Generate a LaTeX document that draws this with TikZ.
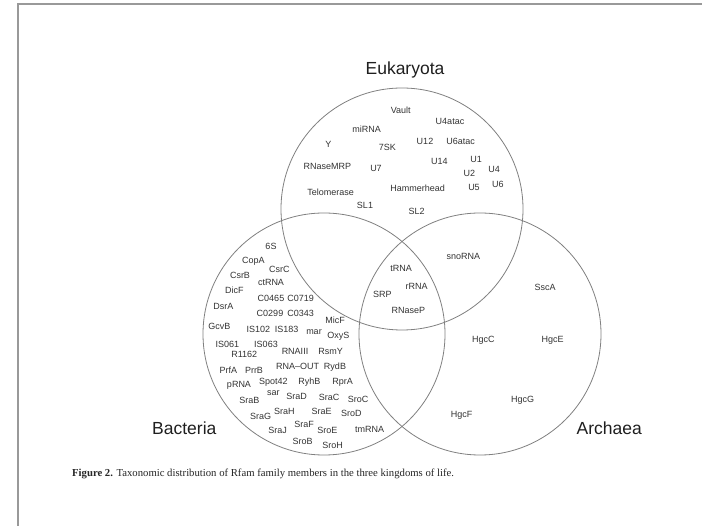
\documentclass[tikz,border=0pt]{standalone}
\usepackage{fontspec}
\setmainfont{Liberation Sans}
\newfontfamily\capfont{Liberation Serif}
\begin{document}
\begin{tikzpicture}[x=1pt,y=-1pt,
  lab/.style={font=\fontsize{9}{10}\selectfont, text=black!80, inner sep=0pt},
  kingdom/.style={font=\fontsize{17.5}{20}\selectfont, text=black!88, inner sep=0pt},
  ring/.style={draw=black!50, line width=0.8pt},
  frameline/.style={draw=black!40, line width=1.5pt}]
\useasboundingbox (0,0) rectangle (702,526);
\fill[white] (0,0) rectangle (702,526);

% page frame
\coordinate (ftl) at (18,4);
\coordinate (ftr) at (702,4);
\coordinate (fbl) at (18,526);
\draw[frameline] (fbl) -- (ftl) -- (ftr);

% the three sets
\coordinate (ceuk) at (402,209);
\coordinate (cbac) at (324,334);
\coordinate (carc) at (480,334);
\draw[ring] (ceuk) circle (121);
\draw[ring] (cbac) circle (121);
\draw[ring] (carc) circle (121);

% kingdom names
\node[kingdom] (keuk) at (405,70) {Eukaryota};
\node[kingdom] (kbac) at (184.3,428.3) {Bacteria};
\node[kingdom] (karc) at (609.3,428.3) {Archaea};

% Eukaryota only
\node[lab] (vault) at (400.7,110) {Vault};
\node[lab] (u4atac) at (450,121) {U4atac};
\node[lab] (mirna) at (366.7,129) {miRNA};
\node[lab] (y) at (328.3,144.3) {Y};
\node[lab] (sevensk) at (387.3,147.3) {7SK};
\node[lab] (u12) at (425,141) {U12};
\node[lab] (u6atac) at (460.7,141) {U6atac};
\node[lab] (u1) at (476,159) {U1};
\node[lab] (rnasemrp) at (327.3,166) {RNaseMRP};
\node[lab] (u7) at (376,168.3) {U7};
\node[lab] (u14) at (439.3,161.7) {U14};
\node[lab] (u2) at (469.3,173.3) {U2};
\node[lab] (u4) at (494,169.5) {U4};
\node[lab] (u5) at (474,187.7) {U5};
\node[lab] (u6) at (497.8,184) {U6};
\node[lab] (telomerase) at (330.7,192.3) {Telomerase};
\node[lab] (hammerhead) at (417.7,188.3) {Hammerhead};
\node[lab] (sl1) at (365,205.7) {SL1};
\node[lab] (sl2) at (416.7,211.7) {SL2};

% Eukaryota and Archaea
\node[lab] (snorna) at (463.3,256.7) {snoRNA};

% all three kingdoms
\node[lab] (trna) at (401,268.3) {tRNA};
\node[lab] (rrna) at (416.7,286.7) {rRNA};
\node[lab] (srp) at (382.3,294) {SRP};
\node[lab] (rnasep) at (408.3,310) {RNaseP};

% Archaea only
\node[lab] (ssca) at (545,287.3) {SscA};
\node[lab] (hgcc) at (483.3,340) {HgcC};
\node[lab] (hgce) at (552.7,340) {HgcE};
\node[lab] (hgcg) at (522.7,400.7) {HgcG};
\node[lab] (hgcf) at (461.7,415) {HgcF};

% Bacteria only
\node[lab] (sixs) at (271,246) {6S};
\node[lab] (copa) at (253.3,261) {CopA};
\node[lab] (csrc) at (279.3,269) {CsrC};
\node[lab] (csrb) at (240,275) {CsrB};
\node[lab] (ctrna) at (271,282.3) {ctRNA};
\node[lab] (dicf) at (234.3,290.7) {DicF};
\node[lab] (c0465) at (271,298.3) {C0465};
\node[lab] (c0719) at (300.7,298.3) {C0719};
\node[lab] (dsra) at (223.3,306) {DsrA};
\node[lab] (c0299) at (270,313.3) {C0299};
\node[lab] (c0343) at (300.7,313.3) {C0343};
\node[lab] (gcvb) at (219.3,326) {GcvB};
\node[lab] (is102) at (258.3,329) {IS102};
\node[lab] (is183) at (286.7,329) {IS183};
\node[lab] (mar) at (314,332.3) {mar};
\node[lab] (micf) at (335,320) {MicF};
\node[lab] (oxys) at (338.3,336.7) {OxyS};
\node[lab] (is061) at (227.3,344.3) {IS061};
\node[lab] (is063) at (266,344.3) {IS063};
\node[lab] (r1162) at (244.3,354.3) {R1162};
\node[lab] (rnaiii) at (295,351.7) {RNAIII};
\node[lab] (rsmy) at (330.7,351.7) {RsmY};
\node[lab] (prfa) at (228.3,370.7) {PrfA};
\node[lab] (prrb) at (254,370.7) {PrrB};
\node[lab] (rnaout) at (297.7,366) {RNA–OUT};
\node[lab] (rydb) at (335,366.7) {RydB};
\node[lab] (prna) at (239,385) {pRNA};
\node[lab] (spot42) at (273.3,382.3) {Spot42};
\node[lab] (ryhb) at (309.3,382.3) {RyhB};
\node[lab] (rpra) at (342.7,382.3) {RprA};
\node[lab] (sar) at (273.3,392.7) {sar};
\node[lab] (srab) at (249.3,400.7) {SraB};
\node[lab] (srad) at (296.7,396.7) {SraD};
\node[lab] (srac) at (329,397.7) {SraC};
\node[lab] (sroc) at (358,399) {SroC};
\node[lab] (srag) at (260.7,416.7) {SraG};
\node[lab] (srah) at (284.3,411.7) {SraH};
\node[lab] (srae) at (321.7,411.7) {SraE};
\node[lab] (srod) at (351.4,413.7) {SroD};
\node[lab] (sraf) at (304,424) {SraF};
\node[lab] (sraj) at (277.7,430) {SraJ};
\node[lab] (sroe) at (327.3,430) {SroE};
\node[lab] (tmrna) at (369.7,429) {tmRNA};
\node[lab] (srob) at (302.7,441.7) {SroB};
\node[lab] (sroh) at (332.7,445.7) {SroH};

% caption
\node[anchor=west, inner sep=0pt, text=black!85, font=\capfont\fontsize{10.7}{12}\selectfont] (caption) at (72,474.3)
  {\textbf{Figure 2.} Taxonomic distribution of Rfam family members in the three kingdoms of life.};
\end{tikzpicture}
\end{document}
